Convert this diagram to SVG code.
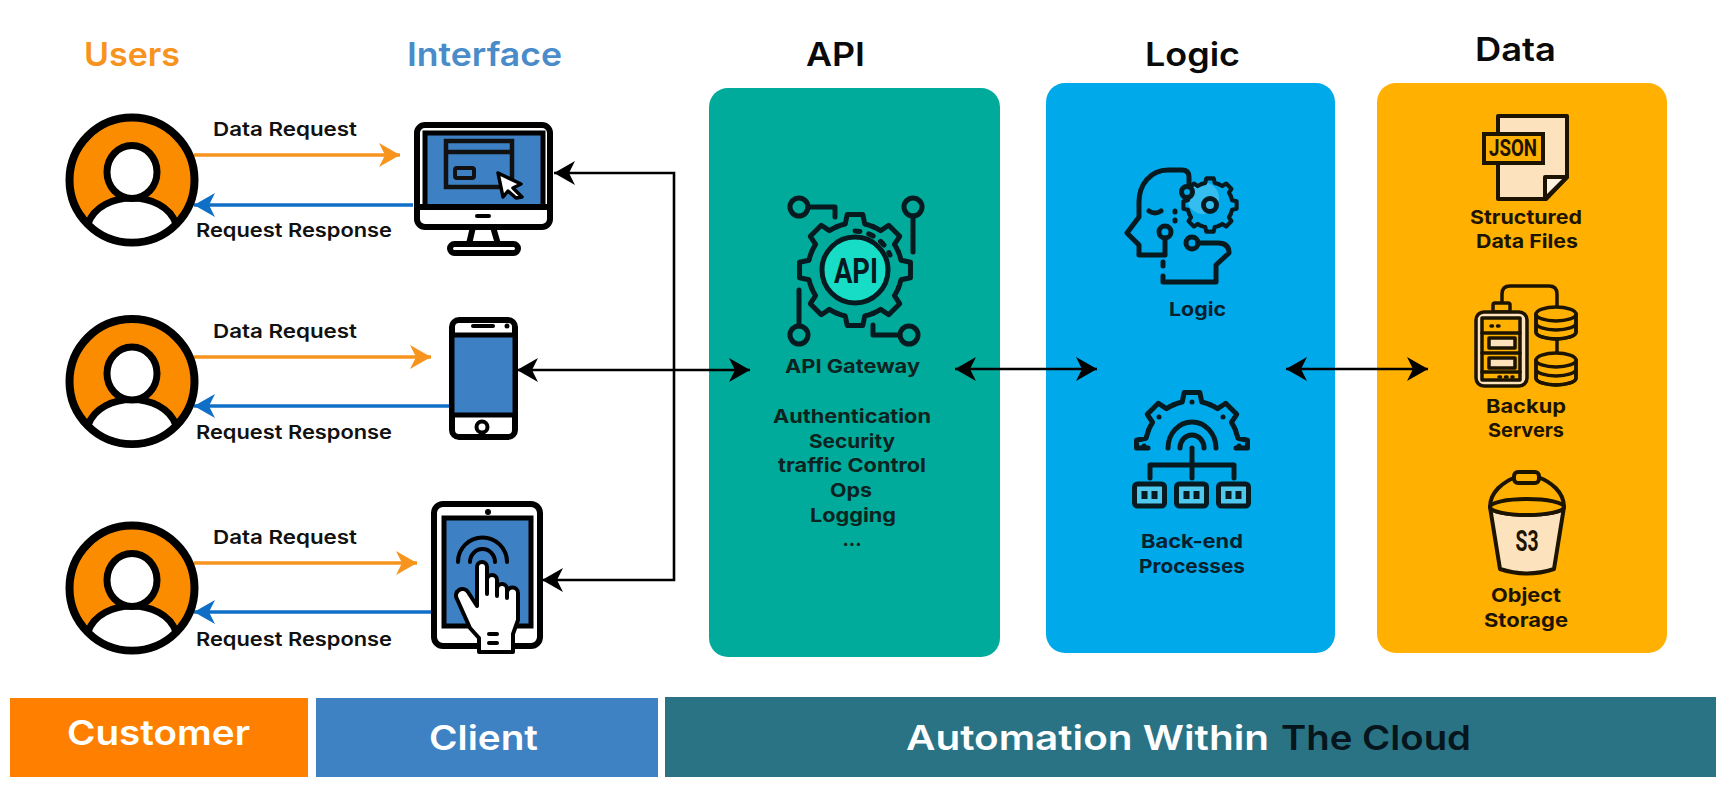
<svg xmlns="http://www.w3.org/2000/svg" xmlns:xlink="http://www.w3.org/1999/xlink" width="1733" height="797" viewBox="0 0 1733 797">
<style>
text{font-family:"Inter","Liberation Sans",sans-serif;}
.h{font-size:33px;font-weight:600;}
.lb{font-size:19px;font-weight:600;fill:#111;}
.pt{font-size:19px;font-weight:700;fill:#0c2320;text-anchor:middle;}
.pb{font-size:19px;font-weight:700;fill:#07202e;text-anchor:middle;}
.pd{font-size:19px;font-weight:700;fill:#1c1400;text-anchor:middle;}
.bar{font-size:34px;font-weight:600;fill:#fff;}
.ln{fill:none;stroke:#000;stroke-width:2.6;}
.or{fill:none;stroke:#f7941d;stroke-width:3.4;}
.bl{fill:none;stroke:#0f6fc6;stroke-width:3.4;}
.ic{fill:none;stroke:#071a20;stroke-width:5;stroke-linecap:round;stroke-linejoin:round;}
.k{stroke:#000;stroke-width:6;stroke-linejoin:round;}
.cn{font-family:"Roboto","Liberation Sans",sans-serif;font-weight:700;fill:#1c1400;text-anchor:middle;}
</style>
<defs>
<marker id="ak" markerUnits="userSpaceOnUse" markerWidth="24" markerHeight="28" refX="22" refY="14" orient="auto-start-reverse" viewBox="0 0 24 28"><path d="M1,2 L22,14 L1,26 L7,14 Z" fill="#000"/></marker>
<marker id="ao" markerUnits="userSpaceOnUse" markerWidth="24" markerHeight="28" refX="22" refY="14" orient="auto" viewBox="0 0 24 28"><path d="M1,2 L22,14 L1,26 L7,14 Z" fill="#f7941d"/></marker>
<marker id="ab" markerUnits="userSpaceOnUse" markerWidth="24" markerHeight="28" refX="22" refY="14" orient="auto" viewBox="0 0 24 28"><path d="M1,2 L22,14 L1,26 L7,14 Z" fill="#0f6fc6"/></marker>
<g id="person">
<circle r="62.5" fill="#fb8c00" stroke="#000" stroke-width="8"/>
<path d="M-44,44 C-38,26 -18,18 0,18 C18,18 38,26 44,44 A62 62 0 0 1 -44,44 Z" fill="#fff" stroke="#000" stroke-width="7" stroke-linejoin="round"/>
<ellipse cx="0" cy="-8" rx="25" ry="26.5" fill="#fff" stroke="#000" stroke-width="7"/>
</g>
<path id="tooth" d="M-17.99,-43.42 A47 47 0 0 1 -9.77,-45.97 L-7.79,-55.46 L7.79,-55.46 L9.77,-45.97 A47 47 0 0 1 17.99,-43.42"/>
<g id="gear8">
<use href="#tooth"/><use href="#tooth" transform="rotate(45)"/><use href="#tooth" transform="rotate(90)"/><use href="#tooth" transform="rotate(135)"/><use href="#tooth" transform="rotate(180)"/><use href="#tooth" transform="rotate(225)"/><use href="#tooth" transform="rotate(270)"/><use href="#tooth" transform="rotate(315)"/>
</g>
<g id="db">
<path d="M-20,0 V18 A20 7 0 0 0 20,18 V0 Z" fill="#ffb000"/>
<path d="M-20,9 A20 7 0 0 0 20,9 M-20,0 V18 A20 7 0 0 0 20,18 V0" fill="none"/>
<ellipse rx="20" ry="7" fill="#ffb000"/>
</g>
<g id="modbox">
<rect x="-15" y="-11" width="30" height="22" rx="3" fill="#4fc8ee" stroke="#071a20" stroke-width="5"/>
<rect x="-8" y="-4" width="6" height="8" fill="#071a20"/><rect x="2" y="-4" width="6" height="8" fill="#071a20"/>
</g>
</defs>
<rect width="1733" height="797" fill="#fff"/>

<g id="headers">
<text class="h" x="84" y="66" fill="#f7931e" textLength="96" lengthAdjust="spacingAndGlyphs">Users</text>
<text class="h" x="407" y="66" fill="#4a8bc9" textLength="155" lengthAdjust="spacingAndGlyphs">Interface</text>
<text class="h" x="806" y="66" fill="#0a0a0a" textLength="59" lengthAdjust="spacingAndGlyphs">API</text>
<text class="h" x="1145" y="66" fill="#0a0a0a" textLength="95" lengthAdjust="spacingAndGlyphs">Logic</text>
<text class="h" x="1475" y="61" fill="#0a0a0a" textLength="81" lengthAdjust="spacingAndGlyphs">Data</text>
</g>

<g id="panel-api">
<rect x="709" y="88" width="291" height="569" rx="19" fill="#00ab9c"/>
<g class="ic">
<circle cx="855" cy="270" r="33" fill="#17dcc6"/>
<use href="#gear8" transform="translate(855 270)"/>
<path d="M855,231 A39 39 0 0 1 890,255" stroke-dasharray="5 9" fill="none"/>
<circle cx="799" cy="207" r="9"/><path d="M808,207 H835 V217"/>
<circle cx="913" cy="207" r="9"/><path d="M913,216 V252"/>
<circle cx="799" cy="335" r="9"/><path d="M799,326 V290"/>
<circle cx="909" cy="335" r="9"/><path d="M900,335 H873 V325"/>
</g>
<text x="856" y="283" text-anchor="middle" style="font-family:'Roboto','Liberation Sans',sans-serif;font-size:35px;font-weight:700;fill:#071a20" textLength="44" lengthAdjust="spacingAndGlyphs">API</text>
<text class="pt" x="852.5" y="373" textLength="135" lengthAdjust="spacingAndGlyphs">API Gateway</text>
<text class="pt" x="852" y="423" textLength="158" lengthAdjust="spacingAndGlyphs">Authentication</text>
<text class="pt" x="852" y="448" textLength="86" lengthAdjust="spacingAndGlyphs">Security</text>
<text class="pt" x="852" y="472" textLength="148" lengthAdjust="spacingAndGlyphs">traffic Control</text>
<text class="pt" x="851" y="497" textLength="42" lengthAdjust="spacingAndGlyphs">Ops</text>
<text class="pt" x="853" y="522" textLength="86" lengthAdjust="spacingAndGlyphs">Logging</text>
<text class="pt" x="852" y="546">...</text>
</g>

<g id="panel-logic">
<rect x="1046" y="83" width="289" height="570" rx="19" fill="#00a9e9"/>
<g class="ic">
<circle cx="1203" cy="198" r="16" fill="#35bdf0" stroke="none"/>
<use href="#gear8" transform="translate(1210 205) scale(.48)" style="stroke-width:8.5"/>
<circle cx="1210" cy="205" r="6.5"/>
<path d="M1189,186 V177 Q1189,170 1182,170 H1168 C1150,170 1139,185 1139,202 V217 L1127,233 L1139,245 V255 H1165 V238"/>
<circle cx="1187" cy="192" r="5.5" fill="#00a9e9"/>
<circle cx="1165" cy="232" r="6"/>
<circle cx="1192" cy="243" r="6"/>
<path d="M1198,243 H1218 Q1229,243 1229,253 L1216,265 V282 H1163 V276"/>
<path d="M1163,262 V266"/>
<path d="M1149,211 Q1155,215 1161,211"/>
<path d="M1175,211 V212 M1175,220 V221"/>
</g>
<text class="pb" x="1197.5" y="316" textLength="57" lengthAdjust="spacingAndGlyphs">Logic</text>
<g class="ic">
<use href="#tooth" transform="translate(1192 448)"/>
<use href="#tooth" transform="translate(1192 448) rotate(-45)"/>
<use href="#tooth" transform="translate(1192 448) rotate(45)"/>
<path d="M1235.4,430 L1238,438.2 L1247.5,440.2 V448 H1236 M1148.6,430 L1146,438.2 L1136.5,440.2 V448 H1148"/>
<path d="M1168,448 A24 26 0 0 1 1216,448 M1180,448 A12 13 0 0 1 1204,448"/>
<path d="M1192,448 V478 M1150,478 V465 H1234 V478"/>
</g>
<g fill="#071a20"><circle cx="1192" cy="402" r="2.5"/><circle cx="1159" cy="417" r="2.5"/><circle cx="1223" cy="417" r="2.5"/><circle cx="1144" cy="446" r="2.5"/><circle cx="1239" cy="446" r="2.5"/></g>
<use href="#modbox" x="1149.5" y="495"/><use href="#modbox" x="1191.5" y="495"/><use href="#modbox" x="1233.5" y="495"/>
<text class="pb" x="1192" y="548" textLength="102" lengthAdjust="spacingAndGlyphs">Back-end</text>
<text class="pb" x="1192" y="573" textLength="106" lengthAdjust="spacingAndGlyphs">Processes</text>
</g>

<g id="panel-data">
<rect x="1377" y="83" width="290" height="570" rx="19" fill="#ffb000"/>
<path d="M1498,116 H1567 V177 L1546,199 H1498 Z" fill="#fde3bd" stroke="#1c1400" stroke-width="4" stroke-linejoin="round"/>
<path d="M1567,177 H1545 V199 Z" fill="#fff3df" stroke="#1c1400" stroke-width="4" stroke-linejoin="round"/>
<rect x="1484" y="134" width="59" height="29" fill="#ffb000" stroke="#1c1400" stroke-width="4"/>
<text class="cn" x="1513" y="156" style="font-size:23px" textLength="48" lengthAdjust="spacingAndGlyphs">JSON</text>
<text class="pd" x="1526" y="224" textLength="112" lengthAdjust="spacingAndGlyphs">Structured</text>
<text class="pd" x="1527" y="248" textLength="102" lengthAdjust="spacingAndGlyphs">Data Files</text>
<g fill="none" stroke="#1c1400" stroke-width="3.5" stroke-linejoin="round" stroke-linecap="round">
<path d="M1502,303 V294 Q1502,286 1510,286 H1549 Q1557,286 1557,294 V318"/>
<path d="M1557,338 V362"/>
<rect x="1493" y="303" width="17" height="9" rx="2" fill="#ffb000"/>
<rect x="1476" y="312" width="51" height="74" rx="8" fill="#fde3bd"/>
<rect x="1482" y="318" width="38" height="62" fill="#ffb000"/>
<path d="M1482,333 H1520 M1482,353 H1520 M1482,372 H1520"/>
<rect x="1489" y="338" width="26" height="10" fill="#fde3bd"/>
<rect x="1489" y="358" width="26" height="10" fill="#fde3bd"/>
<path d="M1491,326 H1504 M1499,377 H1513" stroke-dasharray="1.5 5"/>
<use href="#db" transform="translate(1556 314)"/>
<use href="#db" transform="translate(1556 360)"/>
</g>
<text class="pd" x="1526" y="413" textLength="80" lengthAdjust="spacingAndGlyphs">Backup</text>
<text class="pd" x="1526" y="437" textLength="76" lengthAdjust="spacingAndGlyphs">Servers</text>
<g stroke="#1c1400" stroke-width="4" stroke-linejoin="round">
<path d="M1490,507 L1500,569 Q1527,578 1554,569 L1564,507 A37 8 0 0 1 1490,507 Z" fill="#fde3bd"/>
<path d="M1490,507 C1490,492 1503,482 1516,477 M1564,507 C1564,492 1551,482 1538,477" fill="none"/>
<rect x="1514" y="472" width="25" height="11" rx="4" fill="#ffb000"/>
<ellipse cx="1527" cy="507" rx="37" ry="8" fill="#ffb000"/>
</g>
<text class="cn" x="1527" y="551" style="font-size:29px" textLength="23" lengthAdjust="spacingAndGlyphs">S3</text>
<text class="pd" x="1526" y="602" textLength="70" lengthAdjust="spacingAndGlyphs">Object</text>
<text class="pd" x="1526" y="627" textLength="84" lengthAdjust="spacingAndGlyphs">Storage</text>
</g>

<g id="connectors">
<path class="or" d="M194,155 H400" marker-end="url(#ao)"/>
<path class="bl" d="M413,205 H194" marker-end="url(#ab)"/>
<path class="or" d="M194,357 H431" marker-end="url(#ao)"/>
<path class="bl" d="M449,406 H194" marker-end="url(#ab)"/>
<path class="or" d="M194,563 H417" marker-end="url(#ao)"/>
<path class="bl" d="M432,612 H194" marker-end="url(#ab)"/>
<path class="ln" d="M554,173 H674 V580 H542" marker-start="url(#ak)" marker-end="url(#ak)"/>
<path class="ln" d="M517,370 H750" marker-start="url(#ak)" marker-end="url(#ak)"/>
<path class="ln" d="M955,369 H1097" marker-start="url(#ak)" marker-end="url(#ak)"/>
<path class="ln" d="M1286,369 H1428" marker-start="url(#ak)" marker-end="url(#ak)"/>
</g>

<g id="labels">
<text class="lb" x="213" y="136" textLength="144" lengthAdjust="spacingAndGlyphs">Data Request</text>
<text class="lb" x="196" y="237" textLength="196" lengthAdjust="spacingAndGlyphs">Request Response</text>
<text class="lb" x="213" y="338" textLength="144" lengthAdjust="spacingAndGlyphs">Data Request</text>
<text class="lb" x="196" y="439" textLength="196" lengthAdjust="spacingAndGlyphs">Request Response</text>
<text class="lb" x="213" y="544" textLength="144" lengthAdjust="spacingAndGlyphs">Data Request</text>
<text class="lb" x="196" y="646" textLength="196" lengthAdjust="spacingAndGlyphs">Request Response</text>
</g>

<g id="user-1"><use href="#person" x="132" y="180"/></g>
<g id="user-2"><use href="#person" x="132" y="381.5"/></g>
<g id="user-3"><use href="#person" x="132" y="588"/></g>

<g id="monitor">
<path d="M473,227 L469,244 H498 L493,227 Z" fill="#fff" class="k"/>
<rect x="450" y="244" width="68" height="9" rx="4.5" fill="#fff" class="k"/>
<rect x="417" y="125" width="133" height="102" rx="8" fill="#fff" class="k"/>
<rect x="425" y="133" width="118" height="74" fill="#3d80c4" stroke="#000" stroke-width="5"/>
<path d="M417,207 H550" class="k" fill="none"/>
<rect x="475" y="214" width="16" height="4" rx="2" fill="#000"/>
<rect x="446" y="141" width="66" height="46" fill="#3d80c4" stroke="#111" stroke-width="4.5"/>
<path d="M446,152 H512" stroke="#111" stroke-width="4.5"/>
<rect x="455" y="168" width="19" height="10" rx="2" fill="#3d80c4" stroke="#111" stroke-width="4"/>
<path d="M498,173 L521,184 L513,188 L522,197 L516,198 L508,191 L503,197 Z" fill="#fff" stroke="#000" stroke-width="3.5" stroke-linejoin="round"/>
</g>

<g id="phone">
<rect x="452" y="320" width="63" height="117" rx="7" fill="#fff" class="k"/>
<rect x="452" y="335" width="63" height="80" fill="#3d80c4" stroke="#000" stroke-width="5"/>
<rect x="471" y="324" width="24" height="4" rx="2" fill="#000"/><circle cx="507" cy="326" r="2.5" fill="#000"/>
<circle cx="482" cy="427" r="5.5" fill="#fff" stroke="#000" stroke-width="4"/>
</g>

<g id="tablet">
<rect x="434" y="504" width="106" height="142" rx="9" fill="#fff" class="k"/>
<rect x="444" y="518" width="87" height="108" fill="#3d80c4" stroke="#000" stroke-width="5"/>
<circle cx="488" cy="512" r="3" fill="#000"/>
<path d="M458,562 A24.5 24.5 0 0 1 507,562 M470,562 A12.5 13 0 0 1 495,562" fill="none" stroke="#000" stroke-width="4" stroke-linecap="round"/>
<path d="M477,567 A5 5 0 0 1 487,567 V594 V580 A5 5 0 0 1 497,580 V596 V589 A5 5 0 0 1 507,589 V598 V593 A5 5 0 0 1 518,593 V620 L513,634 V652 H479 V638 L470,628 L457,599 A6 6 0 0 1 468,592 L477,606 Z" fill="#fff" stroke="#000" stroke-width="4" stroke-linejoin="round"/>
<rect x="487" y="632" width="12" height="4" rx="2" fill="#000"/><rect x="487" y="641" width="12" height="4" rx="2" fill="#000"/>
</g>

<g id="bar-customer">
<rect x="10" y="698" width="298" height="79" fill="#ff8000"/>
<text class="bar" x="67" y="745" textLength="183" lengthAdjust="spacingAndGlyphs">Customer</text>
</g>
<g id="bar-client">
<rect x="316" y="698" width="342" height="79" fill="#3f82c4"/>
<text class="bar" x="429" y="750" textLength="109" lengthAdjust="spacingAndGlyphs">Client</text>
</g>
<g id="bar-cloud">
<rect x="665" y="697" width="1051" height="80" fill="#297385"/>
<text class="bar" x="906" y="750" textLength="363" lengthAdjust="spacingAndGlyphs">Automation Within</text>
<text class="bar" x="1281" y="750" style="fill:#06161c" textLength="190" lengthAdjust="spacingAndGlyphs">The Cloud</text>
</g>
</svg>
